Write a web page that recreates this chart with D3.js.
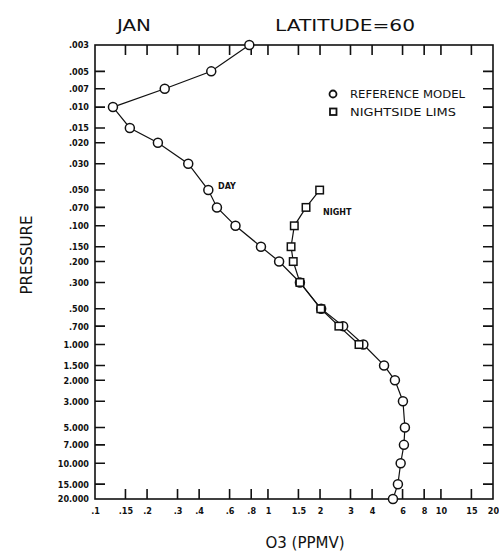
<!DOCTYPE html>
<html>
<head>
<meta charset="utf-8">
<script src="https://cdn.jsdelivr.net/npm/d3@7"></script>
<style>
  body { margin: 0; background: #fff; }
  svg { display: block; }
  .tick text { font-family: "Liberation Sans Narrow", "DejaVu Sans Condensed", sans-serif; font-weight: bold; font-size: 9px; fill: #111; }
  .lbl { font-family: "DejaVu Sans", sans-serif; fill: #111; }
</style>
</head>
<body>
<div id="chart"></div>
<script>
// pressure levels (mb) shown on the y axis, and their printed labels
const pressureLevels = [.003, .005, .007, .010, .015, .020, .030, .050, .070, .100, .150, .200, .300, .500, .700, 1, 1.5, 2, 3, 5, 7, 10, 15, 20]
const pressureLabels = [".003", ".005", ".007", ".010", ".015", ".020", ".030", ".050", ".070", ".100", ".150", ".200", ".300", ".500", ".700", "1.000", "1.500", "2.000", "3.000", "5.000", "7.000", "10.000", "15.000", "20.000"]

// O3 (ppmv) reference model, one value per pressure level
const refModel = [0.78, 0.47, 0.253, 0.127, 0.159, 0.231, 0.346, 0.452, 0.507, 0.649, 0.911, 1.16, 1.53, 2.03, 2.72, 3.56, 4.69, 5.42, 6.03, 6.19, 6.11, 5.85, 5.64, 5.28]

// nightside LIMS
const nightPressure = [.05, .07, .1, .15, .2, .3, .5, .7, 1]
const nightLims = [1.99, 1.66, 1.42, 1.36, 1.40, 1.53, 2.02, 2.57, 3.36]

const xTickValues = [.1, .15, .2, .3, .4, .6, .8, 1, 1.5, 2, 3, 4, 6, 8, 10, 15, 20]
const xTickLabels = [".1", ".15", ".2", ".3", ".4", ".6", ".8", "1", "1.5", "2", "3", "4", "6", "8", "10", "15", "20"]

var width = 499,
    height = 558,
    margin = { top: 45, right: 6, bottom: 59, left: 95 }

var svg = d3.select("#chart").append("svg")
  .attr("width", width)
  .attr("height", height)

var x = d3.scaleLog().domain([0.1, 20]).range([margin.left, width - margin.right])
var y = d3.scaleLog().domain([0.003, 20]).range([margin.top, height - margin.bottom])

var x0 = x(0.1), x1 = x(20), y0 = y(0.003), y1 = y(20)

// frame
svg.append("rect")
  .attr("x", x0).attr("y", y0)
  .attr("width", x1 - x0).attr("height", y1 - y0)
  .attr("fill", "none").attr("stroke", "#111").attr("stroke-width", 1.6)

// labels only, through the axis generators
svg.append("g")
  .attr("transform", `translate(0,${y1})`)
  .call(d3.axisBottom(x).tickValues(xTickValues).tickSize(0).tickPadding(9)
    .tickFormat((d, i) => xTickLabels[i]))
  .call(g => g.select(".domain").remove())

svg.append("g")
  .attr("transform", `translate(${x0},0)`)
  .call(d3.axisLeft(y).tickValues(pressureLevels).tickSize(0).tickPadding(6)
    .tickFormat((d, i) => pressureLabels[i]))
  .call(g => g.select(".domain").remove())

// inward tick marks on all four sides
var inner = xTickValues.slice(1, -1)
var innerP = pressureLevels.slice(1, -1)
var tickPath = ""
inner.forEach(function(d) {
  tickPath += `M${x(d)},${y1}V${y1 - 10}M${x(d)},${y0}V${y0 + 10}`
})
innerP.forEach(function(d) {
  tickPath += `M${x0},${y(d)}H${x0 + 10}M${x1},${y(d)}H${x1 - 10}`
})
svg.append("path")
  .attr("d", tickPath)
  .attr("fill", "none")
  .style("stroke", "#111")
  .style("stroke-width", "1.6px")

var line = d3.line()
  .x(d => x(d[0]))
  .y(d => y(d[1]))

var refPts = refModel.map((v, i) => [v, pressureLevels[i]])
var nightPts = nightLims.map((v, i) => [v, nightPressure[i]])

svg.append("path").datum(refPts)
  .attr("d", line).attr("fill", "none").attr("stroke", "#111").attr("stroke-width", 1.2)

svg.append("path").datum(nightPts)
  .attr("d", line).attr("fill", "none").attr("stroke", "#111").attr("stroke-width", 1.2)

svg.append("g").selectAll("circle")
  .data(refPts)
  .enter().append("circle")
    .attr("cx", d => x(d[0]))
    .attr("cy", d => y(d[1]))
    .attr("r", 4.5)
    .attr("fill", "#fff")
    .attr("stroke", "#111")
    .attr("stroke-width", 1.5)

var sq = 7.5
svg.append("g").selectAll("rect")
  .data(nightPts)
  .enter().append("rect")
    .attr("x", d => x(d[0]) - sq / 2)
    .attr("y", d => y(d[1]) - sq / 2)
    .attr("width", sq).attr("height", sq)
    .attr("fill", "#fff")
    .attr("stroke", "#111")
    .attr("stroke-width", 1.5)

// legend
svg.append("circle").attr("cx", 333).attr("cy", 94).attr("r", 3.5)
  .attr("fill", "#fff").attr("stroke", "#111").attr("stroke-width", 1.8)
svg.append("rect").attr("x", 330).attr("y", 108.5).attr("width", 6.5).attr("height", 6.5)
  .attr("fill", "#fff").attr("stroke", "#111").attr("stroke-width", 1.8)

svg.append("text").attr("class", "lbl").attr("x", 350).attr("y", 98)
  .attr("font-size", 10).attr("textLength", 115).attr("lengthAdjust", "spacingAndGlyphs")
  .text("REFERENCE MODEL")
svg.append("text").attr("class", "lbl").attr("x", 350).attr("y", 116)
  .attr("font-size", 10).attr("textLength", 106).attr("lengthAdjust", "spacingAndGlyphs")
  .text("NIGHTSIDE LIMS")

// curve labels
svg.append("text").attr("class", "lbl").attr("x", 218).attr("y", 189)
  .attr("font-size", 8).attr("font-weight", "bold").text("DAY")
svg.append("text").attr("class", "lbl").attr("x", 323).attr("y", 215)
  .attr("font-size", 8).attr("font-weight", "bold").text("NIGHT")

// titles
svg.append("text").attr("class", "lbl").attr("x", 117).attr("y", 31)
  .attr("font-size", 16).attr("textLength", 34).attr("lengthAdjust", "spacingAndGlyphs")
  .text("JAN")
svg.append("text").attr("class", "lbl").attr("x", 275).attr("y", 31)
  .attr("font-size", 16).attr("textLength", 140).attr("lengthAdjust", "spacingAndGlyphs")
  .text("LATITUDE=60")

svg.append("text").attr("class", "lbl").attr("x", 305).attr("y", 548)
  .attr("text-anchor", "middle").attr("font-size", 15)
  .text("O3 (PPMV)")

svg.append("text").attr("class", "lbl")
  .attr("transform", "translate(32,255) rotate(-90)")
  .attr("text-anchor", "middle").attr("font-size", 15)
  .text("PRESSURE")
</script>
</body>
</html>
